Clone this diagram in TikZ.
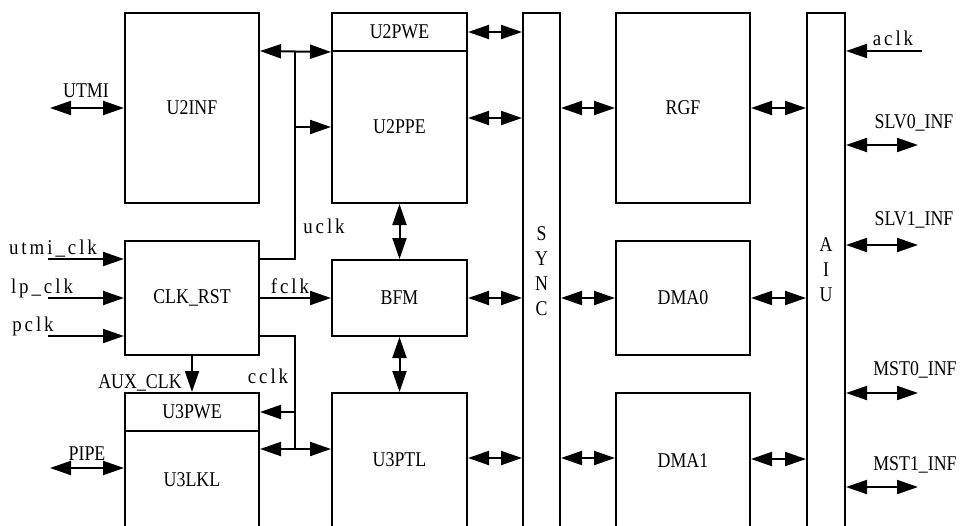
\documentclass[tikz,border=0pt]{standalone}
\usepackage{fontspec}
\setmainfont{Liberation Serif}[FakeStretch=0.85]
\newfontfamily\lcfont{Liberation Serif}[FakeStretch=0.9, LetterSpace=14]
\usetikzlibrary{arrows.meta}
\begin{document}
\begin{tikzpicture}[x=1pt,y=-1pt, font=\fontsize{21}{25}\selectfont,
  box/.style={draw, line width=2pt, inner sep=0pt},
  conn/.style={line width=2pt},
  sarrow/.style={line width=2pt, -{Triangle[length=21pt,width=14pt]}},
  dbl/.style={line width=2pt, {Triangle[length=21pt,width=14pt]}-{Triangle[length=21pt,width=14pt]}},
  lbl/.style={anchor=base, inner sep=0pt},
  lcl/.style={anchor=base, inner sep=0pt, font=\lcfont\fontsize{21}{25}\selectfont},
  vtxt/.style={align=center, inner sep=0pt}]
\useasboundingbox (0,0) rectangle (960,525);
\clip (0,0) rectangle (960,525);
\fill[white] (0,0) rectangle (960,525);

% column 1
\node[box, minimum width=134pt, minimum height=190pt] (u2inf) at (192,108) {U2INF};
\node[box, minimum width=134pt, minimum height=114pt] (clk) at (192,298) {CLK\_RST};
\node[box, minimum width=134pt, minimum height=38pt] (u3pwe) at (192,412) {U3PWE};
\node[box, minimum width=134pt, minimum height=98pt] (u3lkl) at (192,480) {U3LKL};

% column 2
\node[box, minimum width=135pt, minimum height=38pt] (u2pwe) at (399.5,32) {U2PWE};
\node[box, minimum width=135pt, minimum height=152pt] (u2ppe) at (399.5,127) {U2PPE};
\node[box, minimum width=135pt, minimum height=76pt] (bfm) at (399.5,298) {BFM};
\node[box, minimum width=135pt, minimum height=134pt] (u3ptl) at (399.5,460) {U3PTL};

% SYNC
\node[box, minimum width=37pt, minimum height=540pt] (sync) at (541.5,283) {};
\node[vtxt] (synct) at (541.5,271) {S\\Y\\N\\C};

% column 3
\node[box, minimum width=134pt, minimum height=190pt] (rgf) at (683,108) {RGF};
\node[box, minimum width=134pt, minimum height=114pt] (dma0) at (683,298) {DMA0};
\node[box, minimum width=134pt, minimum height=136pt] (dma1) at (683,461) {DMA1};

% AIU
\node[box, minimum width=38pt, minimum height=540pt] (aiu) at (826,283) {};
\node[vtxt] (aiut) at (826,270) {A\\I\\U};

% free ends and junctions
\coordinate (utmi) at (50,108);
\coordinate (pipe) at (50,468);
\coordinate (in1) at (48,259);
\coordinate (in2) at (48,298);
\coordinate (in3) at (48,336);
\coordinate (j1) at (295,51);
\coordinate (j2) at (295,127);
\coordinate (j3) at (295,412);
\coordinate (j4) at (295,449);
\coordinate (aclk) at (922,51);
\coordinate (slv0) at (918,145);
\coordinate (slv1) at (918,245);
\coordinate (mst0) at (918,393);
\coordinate (mst1) at (918,487);

% left side
\draw[dbl] (utmi) -- (u2inf.west);
\draw[dbl] (pipe) -- (u3lkl.west |- pipe);
\draw[sarrow] (in1) -- (clk.west |- in1);
\draw[sarrow] (in2) -- (clk.west |- in2);
\draw[sarrow] (in3) -- (clk.west |- in3);

% uclk
\draw[dbl] (u2inf.east |- j1) -- (u2pwe.south west);
\draw[conn] (clk.east |- 0,259) -| (j1);
\draw[sarrow] (j2) -- (u2ppe.west |- j2);
% fclk
\draw[sarrow] (clk.east) -- (bfm.west);
% cclk
\draw[conn] (clk.east |- 0,336) -| (j4);
\draw[sarrow] (j3) -- (u3pwe.east);
\draw[dbl] (u3lkl.east |- j4) -- (u3ptl.west |- j4);
% AUX_CLK
\draw[sarrow] (clk.south) -- (u3pwe.north);

% vertical
\draw[dbl] (u2ppe.south) -- (bfm.north);
\draw[dbl] (bfm.south) -- (u3ptl.north);

% to SYNC
\draw[dbl] (u2pwe.east) -- (sync.west |- u2pwe.east);
\draw[dbl] (u2ppe.east |- 0,118) -- (sync.west |- 0,118);
\draw[dbl] (bfm.east) -- (sync.west |- bfm.east);
\draw[dbl] (u3ptl.east |- 0,458) -- (sync.west |- 0,458);

% SYNC to column 3
\draw[dbl] (sync.east |- rgf.west) -- (rgf.west);
\draw[dbl] (sync.east |- dma0.west) -- (dma0.west);
\draw[dbl] (sync.east |- 0,458) -- (dma1.west |- 0,458);

% column 3 to AIU
\draw[dbl] (rgf.east) -- (aiu.west |- rgf.east);
\draw[dbl] (dma0.east) -- (aiu.west |- dma0.east);
\draw[dbl] (dma1.east |- 0,459) -- (aiu.west |- 0,459);

% right side
\draw[sarrow] (aclk) -- (aiu.east |- aclk);
\draw[dbl] (aiu.east |- slv0) -- (slv0);
\draw[dbl] (aiu.east |- slv1) -- (slv1);
\draw[dbl] (aiu.east |- mst0) -- (mst0);
\draw[dbl] (aiu.east |- mst1) -- (mst1);

% labels
\node[lbl] (lutmi) at (86,97) {UTMI};
\node[lcl] (lutmiclk) at (53,254) {utmi\_clk};
\node[lcl] (llpclk) at (42,293) {lp\_clk};
\node[lcl] (lpclk) at (33,331) {pclk};
\node[lcl] (lfclk) at (290,293) {fclk};
\node[lcl] (luclk) at (324,233) {uclk};
\node[lcl] (lcclk) at (268,383) {cclk};
\node[lbl] (laux) at (140,388) {AUX\_CLK};
\node[lbl] (lpipe) at (87,460) {PIPE};
\node[lcl] (laclk) at (893,45) {aclk};
\node[lbl] (lslv0) at (914,128) {SLV0\_INF};
\node[lbl] (lslv1) at (914,225) {SLV1\_INF};
\node[lbl] (lmst0) at (915,375) {MST0\_INF};
\node[lbl] (lmst1) at (915,470) {MST1\_INF};
\end{tikzpicture}
\end{document}
